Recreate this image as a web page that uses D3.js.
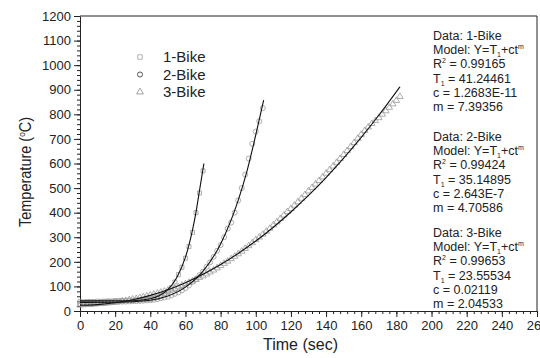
<!DOCTYPE html>
<html>
<head>
<meta charset="utf-8">
<script src="https://cdn.jsdelivr.net/npm/d3@7"></script>
<style>
  body { margin: 0; background: #fff; }
  svg { font-family: "Liberation Sans", Arial, sans-serif; }
</style>
</head>
<body>
<div id="chart"></div>
<script>
// measured time (s) and temperature (°C) for each bike count
const bike1T = [0,2,4,6,8,10,12,14,16,18,20,22,24,26,28,30,32,34,36,38,40,42,44,46,48,50,52,54,56,58,60,62,64,66,68,70];
const bike1Y = [38,37,38,39,38,40,39,40,41,40,42,41,43,42,44,43,45,44,46,47,48,52,55,62,70,80,95,118,148,178,215,262,320,400,480,570];

const bike2T = [0,2,4,6,8,10,12,14,16,18,20,22,24,26,28,30,32,34,36,38,40,42,44,46,48,50,52,54,56,58,60,62,64,66,68,70,72,74,76,78,80,82,84,86,88,90,92,94,96,98,100,102,104];
const bike2Y = [30,31,31,32,33,33,34,35,35,36,37,37,38,38,39,40,40,41,42,43,44,46,48,52,55,58,64,70,76,84,93,104,118,130,146,160,180,198,220,245,268,300,335,360,400,450,500,555,620,680,730,772,825];

const bike3T = [0,2,4,6,8,10,12,14,16,18,20,22,24,26,28,30,32,34,36,38,40,42,44,46,48,50,52,54,56,58,60,62,64,66,68,70,72,74,76,78,80,82,84,86,88,90,92,94,96,98,100,102,104,106,108,110,112,114,116,118,120,122,124,126,128,130,132,134,136,138,140,142,144,146,148,150,152,154,156,158,160,162,164,166,168,170,172,174,176,178,180,182];
const bike3Y = [24,25,27,26,28,29,30,31,33,34,36,38,40,42,45,48,50,54,57,61,65,68,72,76,80,84,88,92,98,104,110,116,122,128,136,142,150,158,166,175,184,193,202,212,222,232,243,254,265,277,290,300,312,324,336,350,362,376,390,404,416,430,444,458,473,488,502,516,530,545,560,574,589,604,620,636,652,668,685,702,718,734,748,762,774,786,800,814,828,842,856,872];

// fitted curves
const fit1T = [0,10,20,30,40,45,50,55,60,62,64,66,68,70.5];
const fit1Y = [41,41,41,42,50,62,87,135,219,269,329,402,491,600];
const fit2T = [0,20,40,50,60,70,80,90,95,100,104.5];
const fit2Y = [35,35.5,44,61,97,162,273,450,569,716,858];
const fit3T = [0,10,20,30,40,50,60,70,80,90,100,110,120,130,140,150,160,170,182];
const fit3Y = [23.6,25.9,33.3,45.8,63.6,86.8,115.4,149.4,188.9,234,284.6,340.8,402.6,470,543,621.8,706.3,796.4,912];

const seriesNames = ["1-Bike", "2-Bike", "3-Bike"];
const xTicks = d3.range(0, 261, 20);
const yTicks = d3.range(0, 1201, 100);

const annotations = [
  { data: "1-Bike", r2: "0.99165", t1: "41.24461", c: "1.2683E-11", m: "7.39356" },
  { data: "2-Bike", r2: "0.99424", t1: "35.14895", c: "2.643E-7", m: "4.70586" },
  { data: "3-Bike", r2: "0.99653", t1: "23.55534", c: "0.02119", m: "2.04533" }
];

const W = 540, H = 358;
const margin = { top: 16, right: 3, bottom: 47, left: 80 };
const width = W - margin.left - margin.right;
const height = H - margin.top - margin.bottom;

const svg = d3.select("#chart").append("svg")
  .attr("width", W).attr("height", H);
const g = svg.append("g")
  .attr("transform", "translate(" + margin.left + "," + margin.top + ")");

const x = d3.scaleLinear().domain([0, 260]).range([0, width]);
const y = d3.scaleLinear().domain([0, 1200]).range([height, 0]);

const ink = "#222";
const markColor = "#9a9a9a";

// minor ticks
g.append("g")
  .attr("transform", "translate(0," + height + ")")
  .call(d3.axisBottom(x).tickValues(d3.range(0, 261, 4)).tickSize(3).tickFormat(""))
  .call(a => a.select(".domain").remove());
g.append("g")
  .call(d3.axisLeft(y).tickValues(d3.range(0, 1201, 20)).tickSize(3).tickFormat(""))
  .call(a => a.select(".domain").remove());

// major axes
const xAxis = g.append("g")
  .attr("transform", "translate(0," + height + ")")
  .call(d3.axisBottom(x).tickValues(xTicks).tickFormat(d3.format("d")).tickSize(6).tickSizeOuter(0).tickPadding(4));
const yAxis = g.append("g")
  .call(d3.axisLeft(y).tickValues(yTicks).tickFormat(d3.format("d")).tickSize(6).tickSizeOuter(0).tickPadding(3));

[xAxis, yAxis].forEach(a => {
  a.selectAll("text").style("font-size", "13px").attr("fill", ink);
  a.select(".domain").attr("stroke", ink);
});
svg.selectAll(".tick line").attr("stroke", ink);

// frame top & right
g.append("line").attr("x1", 0).attr("x2", width).attr("y1", 0).attr("y2", 0)
  .attr("stroke", ink).attr("stroke-width", 1);
g.append("line").attr("x1", width).attr("x2", width).attr("y1", 0).attr("y2", height)
  .attr("stroke", ink).attr("stroke-width", 1);

// axis labels
svg.append("text")
  .attr("x", margin.left + x(130) - 8)
  .attr("y", 350)
  .attr("text-anchor", "middle")
  .style("font-size", "16px")
  .attr("fill", ink)
  .text("Time (sec)");

const yl = svg.append("text")
  .attr("transform", "translate(31,172) rotate(-90)")
  .attr("text-anchor", "middle")
  .attr("textLength", 110)
  .attr("lengthAdjust", "spacingAndGlyphs")
  .style("font-size", "16px")
  .attr("fill", ink);
yl.append("tspan").text("Temperature (");
yl.append("tspan").text("o").attr("dy", -6).style("font-size", "9px");
yl.append("tspan").text("C)").attr("dy", 6);

// markers
const sym = [d3.symbolSquare, d3.symbolCircle, d3.symbolTriangle];
const symSize = [16, 20, 18];
const allSeries = [
  { t: bike1T, v: bike1Y },
  { t: bike2T, v: bike2Y },
  { t: bike3T, v: bike3Y }
];
allSeries.forEach((s, i) => {
  const pts = s.t.map((t, k) => [t, s.v[k]]);
  g.append("g").selectAll("path")
    .data(pts)
    .enter()
    .append("path")
    .attr("transform", d => "translate(" + x(d[0]) + "," + y(d[1]) + ")")
    .attr("d", d3.symbol().type(sym[i]).size(symSize[i]))
    .attr("fill", "none")
    .attr("stroke", markColor)
    .attr("stroke-width", 0.8);
});

// fit lines
const line = d3.line().x(d => x(d[0])).y(d => y(d[1])).curve(d3.curveMonotoneX);
[[fit1T, fit1Y], [fit2T, fit2Y], [fit3T, fit3Y]].forEach(f => {
  g.append("path")
    .datum(f[0].map((t, k) => [t, f[1][k]]))
    .attr("d", line)
    .attr("fill", "none")
    .attr("stroke", "#111")
    .attr("stroke-width", 1.1);
});

// legend
const legColors = ["#aaa", "#444", "#999"];
seriesNames.forEach((name, i) => {
  const ly = 57 + i * 17.5;
  svg.append("path")
    .attr("transform", "translate(140," + ly + ")")
    .attr("d", d3.symbol().type(sym[i]).size(20))
    .attr("fill", "none")
    .attr("stroke", legColors[i])
    .attr("stroke-width", 0.9);
  svg.append("text")
    .attr("x", 163).attr("y", ly + 5)
    .style("font-size", "15px")
    .attr("fill", ink)
    .text(name);
});

// fit annotations
const ax = 433;
const blockTop = [40, 141, 237];
const lh = 14.2;
annotations.forEach((a, i) => {
  const t = svg.append("text")
    .style("font-size", "12.5px")
    .attr("fill", ink);
  const by = blockTop[i];
  t.append("tspan").attr("x", ax).attr("y", by).text("Data: " + a.data);
  t.append("tspan").attr("x", ax).attr("y", by + lh).text("Model: Y=T");
  t.append("tspan").text("1").attr("dy", 3).style("font-size", "7px");
  t.append("tspan").text("+ct").attr("dy", -3);
  t.append("tspan").text("m").attr("dy", -5).style("font-size", "7px");
  t.append("tspan").attr("x", ax).attr("y", by + 2 * lh).text("R");
  t.append("tspan").text("2").attr("dy", -5).style("font-size", "7px");
  t.append("tspan").text(" = " + a.r2).attr("dy", 5);
  t.append("tspan").attr("x", ax).attr("y", by + 3 * lh).text("T");
  t.append("tspan").text("1").attr("dy", 3).style("font-size", "7px");
  t.append("tspan").text(" = " + a.t1).attr("dy", -3);
  t.append("tspan").attr("x", ax).attr("y", by + 4 * lh).text("c = " + a.c);
  t.append("tspan").attr("x", ax).attr("y", by + 5 * lh).text("m = " + a.m);
});
</script>
</body>
</html>
